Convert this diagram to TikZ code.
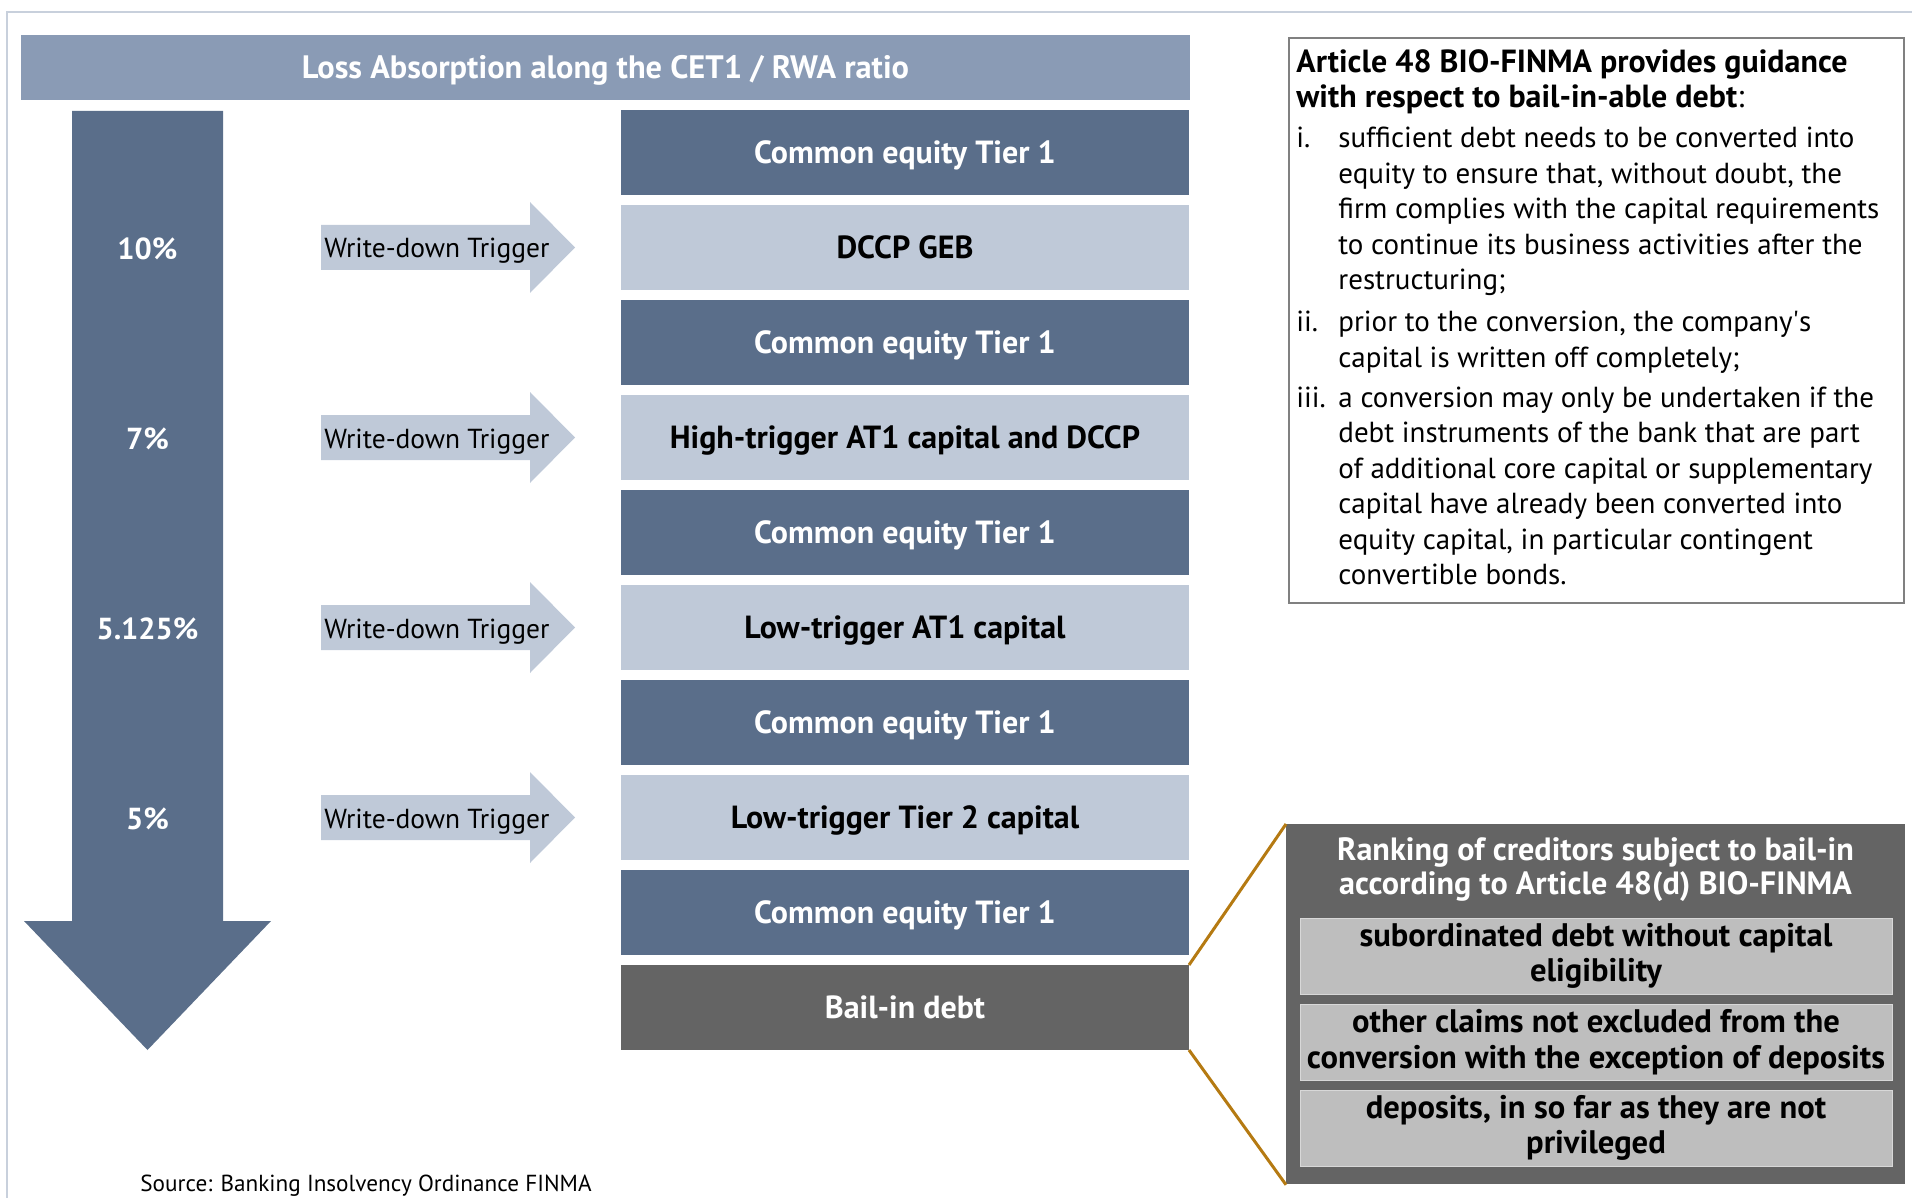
\documentclass[tikz,border=0pt]{standalone}
\usepackage{fontspec}
\setmainfont{PT Sans}
\usetikzlibrary{positioning}
\definecolor{cetblue}{HTML}{5A6E8A}
\definecolor{trigblue}{HTML}{BFC9D8}
\definecolor{headblue}{HTML}{8A9BB5}
\definecolor{framegray}{HTML}{C8D0DC}
\definecolor{bailgray}{HTML}{646464}
\definecolor{rankgray}{HTML}{BEBEBE}
\definecolor{linkbrown}{HTML}{B57A12}
\newcommand{\bfs}{\fontsize{16}{17.8}\selectfont\bfseries}
\newcommand{\rms}{\fontsize{14.5}{17.75}\selectfont}
\begin{document}
\begin{tikzpicture}[x=0.5pt, y=-0.5pt,
  every node/.style={font=\rms},
  b/.style={minimum width=284pt, minimum height=42.5pt, inner sep=0pt, outer sep=0pt, text height=11.4pt, text depth=0pt, font=\bfs},
  dk/.style={b, fill=cetblue, text=white},
  lt/.style={b, fill=trigblue, text=black},
  pct/.style={text=white, font=\fontsize{15.2}{17.8}\selectfont\bfseries},
  trig/.style={fill=trigblue},
  wd/.style={anchor=base west, inner sep=0pt, font=\fontsize{13.75}{16}\selectfont},
  rk/.style={fill=rankgray, draw=rankgray!60!white, minimum width=296pt, minimum height=38pt, inner sep=0pt, align=center, font=\fontsize{16.3}{17.8}\selectfont\bfseries}]
  \useasboundingbox (0,0) rectangle (1912,1198);
  \draw[framegray, line width=1pt] (7,1198) -- (7,12) -- (1912,12);
  \node[fill=headblue, text=white, font=\fontsize{16.2}{18}\selectfont\bfseries, text height=11.5pt, text depth=0pt, minimum width=584.5pt, minimum height=32.5pt, inner sep=0pt] (head) at (605.5,67.5) {Loss Absorption along the CET1 / RWA ratio};
  % ratio arrow
  \fill[cetblue] (72,111) -- (223,111) -- (223,921) -- (271,921) -- (147.5,1050) -- (24,921) -- (72,921) -- cycle;
  \node[pct] (p10) at (147.5,249) {10\%};
  \node[pct] (p7) at (147.5,439) {7\%};
  \node[pct] (p5125) at (147.5,629) {5.125\%};
  \node[pct] (p5) at (147.5,819) {5\%};
  % capital stack
  \node[dk] (ce1) at (905,152.5) {Common equity Tier 1};
  \node[lt, below=5pt of ce1] (dccp) {DCCP GEB};
  \node[dk, below=5pt of dccp] (ce2) {Common equity Tier 1};
  \node[lt, below=5pt of ce2] (hat1) {High-trigger AT1 capital and DCCP};
  \node[dk, below=5pt of hat1] (ce3) {Common equity Tier 1};
  \node[lt, below=5pt of ce3] (lat1) {Low-trigger AT1 capital};
  \node[dk, below=5pt of lat1] (ce4) {Common equity Tier 1};
  \node[lt, below=5pt of ce4] (lt2) {Low-trigger Tier 2 capital};
  \node[dk, below=5pt of lt2] (ce5) {Common equity Tier 1};
  \node[b, fill=bailgray, text=white, below=5pt of ce5] (bail) {Bail-in debt};
  % write-down triggers
  \fill[trig] (321,225) -- ++(209,0) -- ++(0,-23) -- ++(45,45.5) -- ++(-45,45.5) -- ++(0,-23) -- ++(-209,0) -- cycle;
  \fill[trig] (321,415) -- ++(209,0) -- ++(0,-23) -- ++(45,45.5) -- ++(-45,45.5) -- ++(0,-23) -- ++(-209,0) -- cycle;
  \fill[trig] (321,605) -- ++(209,0) -- ++(0,-23) -- ++(45,45.5) -- ++(-45,45.5) -- ++(0,-23) -- ++(-209,0) -- cycle;
  \fill[trig] (321,795) -- ++(209,0) -- ++(0,-23) -- ++(45,45.5) -- ++(-45,45.5) -- ++(0,-23) -- ++(-209,0) -- cycle;
  \node[wd] (wd1) at (324,258) {Write-down Trigger};
  \node[wd] (wd2) at (324,448) {Write-down Trigger};
  \node[wd] (wd3) at (324,638) {Write-down Trigger};
  \node[wd] (wd4) at (324,828) {Write-down Trigger};
  % article 48 box
  \node[draw=gray, line width=1pt, minimum width=307.5pt, minimum height=282.5pt, inner sep=0pt, anchor=north west] (art) at (1288,37) {};
  \node[anchor=north west, inner sep=0pt] (arttxt) at (1296,47) {\begin{tabular}{@{}p{21pt}@{}l@{}}
    \multicolumn{2}{@{}l@{}}{\fontsize{16}{17.75}\selectfont\bfseries Article 48 BIO-FINMA provides guidance}\\
    \multicolumn{2}{@{}l@{}}{\fontsize{16}{17.75}\selectfont\bfseries with respect to bail-in-able debt\mdseries:}\\[2.25pt]
    i. & sufficient debt needs to be converted into\\
       & equity to ensure that, without doubt, the\\
       & firm complies with the capital requirements\\
       & to continue its business activities after the\\
       & restructuring;\\[3.25pt]
    ii. & prior to the conversion, the company\textquotesingle s\\
        & capital is written off completely;\\[2.25pt]
    iii. & a conversion may only be undertaken if the\\
         & debt instruments of the bank that are part\\
         & of additional core capital or supplementary\\
         & capital have already been converted into\\
         & equity capital, in particular contingent\\
         & convertible bonds.
  \end{tabular}};
  % bail-in ranking
  \node[fill=bailgray, minimum width=309.5pt, minimum height=180pt, inner sep=0pt, anchor=north west] (rank) at (1286,824) {};
  \node[text=white, font=\fontsize{16.1}{17}\selectfont\bfseries, align=center] (ranktitle) at (1595.5,870) {Ranking of creditors subject to bail-in\\according to Article 48(d) BIO-FINMA};
  \node[rk] (sub) at (1596,956) {subordinated debt without capital\\eligibility};
  \node[rk] (oth) at (1596,1042) {other claims not excluded from the\\conversion with the exception of deposits};
  \node[rk] (dep) at (1596,1128) {deposits, in so far as they are not\\privileged};
  \draw[linkbrown, line width=1.5pt] (bail.north east) -- (rank.north west);
  \draw[linkbrown, line width=1.5pt] (bail.south east) -- (rank.south west);
  \node[anchor=base west, inner sep=0pt, font=\fontsize{11.6}{14}\selectfont] (src) at (140,1191) {Source: Banking Insolvency Ordinance FINMA};
\end{tikzpicture}
\end{document}
